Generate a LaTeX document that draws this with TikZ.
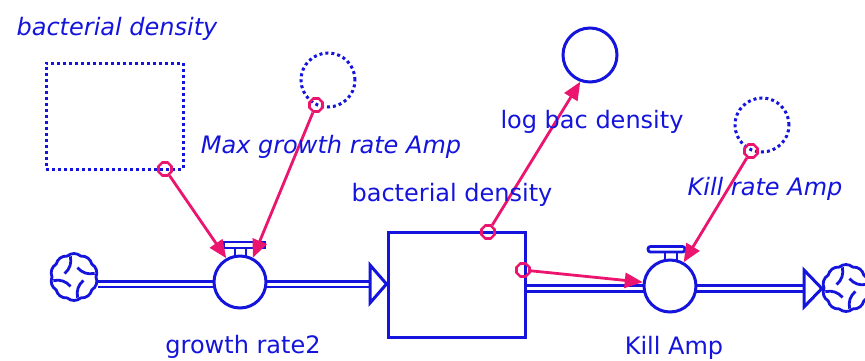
\documentclass[tikz,border=0pt]{standalone}
\usepackage{fontspec}
\setmainfont{DejaVu Sans}
\usetikzlibrary{arrows.meta,shapes.geometric,calc}
\definecolor{sdblue}{RGB}{20,20,220}
\definecolor{sdpink}{RGB}{235,20,110}
\begin{document}
\begin{tikzpicture}[x=1pt,y=-1pt,
  bl/.style={draw=sdblue, line width=3pt},
  thin/.style={draw=sdblue, line width=2.8pt},
  dotline/.style={draw=sdblue, line width=3pt, dash pattern=on 3pt off 3pt},
  stockbox/.style={bl, rectangle, fill=white, minimum width=137pt, minimum height=105pt, inner sep=0},
  ghostbox/.style={dotline, rectangle, minimum width=137pt, minimum height=106pt, inner sep=0},
  valve/.style={bl, circle, fill=white, minimum size=52pt, inner sep=0},
  aux/.style={bl, circle, minimum size=54pt, inner sep=0},
  ghostaux/.style={dotline, circle, minimum size=54pt, inner sep=0},
  cloudnode/.style={circle, minimum size=48pt, inner sep=0},
  oct/.style={draw=sdpink, line width=2.6pt, regular polygon, regular polygon sides=8, minimum size=14pt, inner sep=0},
  link/.style={draw=sdpink, line width=2.8pt, -{Triangle[length=18pt,width=15pt]}},
  pipe/.style={draw=sdblue, line width=2.6pt, double=white, double distance=3pt},
  lbl/.style={text=sdblue, font=\fontsize{24}{28}\selectfont, anchor=base, inner sep=0},
  ilbl/.style={text=sdblue, font=\fontsize{24}{28}\selectfont\itshape, anchor=base, inner sep=0},
  cloudmark/.pic={
    \draw[thin] (0:22pt) \foreach \a in {36,72,...,360}{ to[bend right=40] (\a:22pt)} -- cycle;
    \foreach \a in {10,100,190,280}
      \draw[thin] (\a:21pt) to[bend left=30] (\a+60:10pt);
  }
]
\useasboundingbox (0,0) rectangle (865,360);
\fill[white] (0,0) rectangle (865,360);

% stocks and auxiliaries
\node[ghostbox] (gstock) at (114.5,116) {};
\node[ghostaux] (gmax) at (328,80) {};
\node[aux] (logc) at (590,55) {};
\node[ghostaux] (gkill) at (762,125) {};
\node[stockbox] (stock) at (456.5,284.5) {};

% clouds
\node[cloudnode] (cloudL) at (74,277) {};
\pic at (cloudL) {cloudmark};
\node[cloudnode] (cloudR) at (846,288) {};
\pic at (cloudR) {cloudmark};

% pipes
\draw[pipe] (cloudL.east |- 0,284) -- (371,284);
\draw[pipe] (stock.east |- 0,288.5) -- (804,288.5);

% valves
\node[valve] (v1) at (240,282) {};
\node[valve] (v2) at (670,286) {};

% flow arrowheads
\draw[bl, fill=white, line join=miter] (370,265) -- (stock.west |- 0,284) -- (370,303) -- cycle;
\draw[bl, fill=white, line join=miter] (804,270) -- (cloudR.west |- 0,288.5) -- (804,307) -- cycle;

% valve handles
\draw[thin, fill=white] (224,242) rectangle (265,248);
\draw[thin] (235,248) -- (235,256) (246,248) -- (246,256);
\draw[thin, fill=white, rounded corners=2.5pt] (648,246.5) rectangle (685,252);
\draw[thin] (665,252) -- (665,260) (677,252) -- (677,260);

% connector origins
\node[oct] (o1) at (165,169) {};
\node[oct] (o2) at (316,105) {};
\node[oct] (o3) at (488,232) {};
\node[oct] (o4) at (523,270) {};
\node[oct] (o5) at (751,151) {};

% connectors
\draw[link] (o1) -- (v1.120);
\draw[link] (o2) -- (v1.62);
\draw[link] (o3) -- (logc.250);
\draw[link] (o4) -- (v2.172);
\draw[link] (o5) -- (v2.60);

% labels
\node[ilbl] (tgstock) at (117,35) {bacterial density};
\node[ilbl] (tgmax) at (331,153) {Max growth rate Amp};
\node[lbl] (tlog) at (592,128) {log bac density};
\node[lbl] (tstock) at (452,201) {bacterial density};
\node[ilbl] (tgkill) at (765,195) {Kill rate Amp};
\node[lbl] (tv1) at (243,353) {growth rate2};
\node[lbl] (tv2) at (674,354) {Kill Amp};
\end{tikzpicture}
\end{document}
